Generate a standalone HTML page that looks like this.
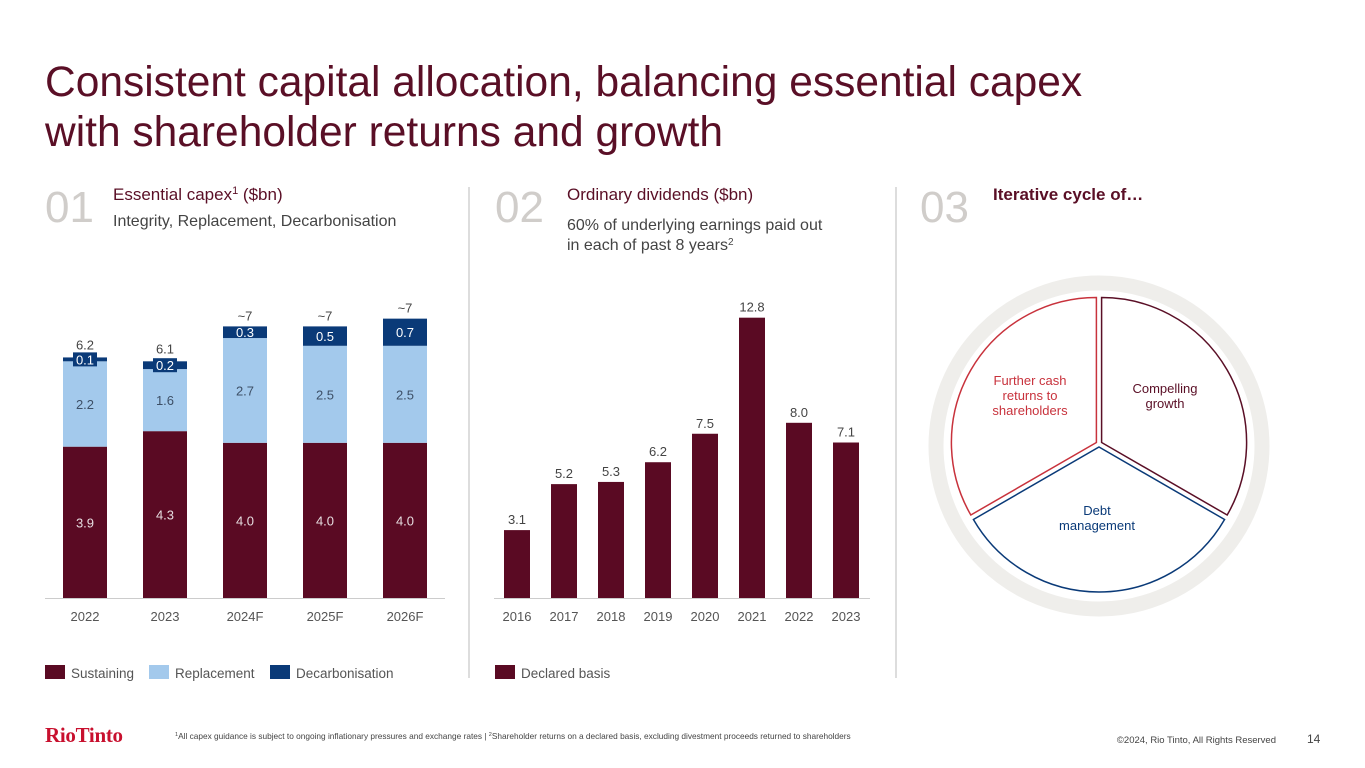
<!DOCTYPE html>
<html><head><meta charset="utf-8"><style>
html,body{margin:0;padding:0;background:#fff;}
body{width:1365px;height:768px;overflow:hidden;position:relative;font-family:"Liberation Sans",sans-serif;}
svg{position:absolute;left:0;top:0;}
</style></head><body>
<svg id="pg" width="1365" height="768" viewBox="0 0 1365 768">
  <text x="45" y="96" font-size="42.5" fill="#5a0f26" font-family="Liberation Sans">Consistent capital allocation, balancing essential capex</text>
  <text x="45" y="146" font-size="42.5" fill="#5a0f26" font-family="Liberation Sans">with shareholder returns and growth</text>

  <text x="45" y="222" font-size="44" fill="#d0cdca">01</text>
  <text x="113" y="200" font-size="17" fill="#5a0f26">Essential capex<tspan font-size="11" dy="-6">1</tspan><tspan dy="6"> ($bn)</tspan></text>
  <text x="113" y="226" font-size="16" fill="#444">Integrity, Replacement, Decarbonisation</text>

  <text x="495" y="222" font-size="44" fill="#d0cdca">02</text>
  <text x="567" y="200" font-size="17" fill="#5a0f26">Ordinary dividends ($bn)</text>
  <text x="567" y="230" font-size="16" fill="#444">60% of underlying earnings paid out</text>
  <text x="567" y="250" font-size="16" fill="#444">in each of past 8 years<tspan font-size="10" dy="-5">2</tspan></text>

  <text x="920" y="222" font-size="44" fill="#d0cdca">03</text>
  <text x="993" y="200" font-size="17" font-weight="bold" fill="#5a0f26">Iterative cycle of…</text>

  <line x1="469" y1="187" x2="469" y2="678" stroke="#bbb" stroke-width="1"/>
  <line x1="896" y1="187" x2="896" y2="678" stroke="#bbb" stroke-width="1"/>

  <g id="c1"></g>
  <g id="c2"></g>

  <rect x="45" y="665" width="20" height="14" fill="#5a0a23"/>
  <text x="71" y="678" font-size="13.5" fill="#555">Sustaining</text>
  <rect x="149" y="665" width="20" height="14" fill="#a3c9ec"/>
  <text x="175" y="678" font-size="13.5" fill="#555">Replacement</text>
  <rect x="270" y="665" width="20" height="14" fill="#0a3a78"/>
  <text x="296" y="678" font-size="13.5" fill="#555">Decarbonisation</text>
  <rect x="495" y="665" width="20" height="14" fill="#5a0a23"/>
  <text x="521" y="678" font-size="13.5" fill="#555">Declared basis</text>

  <g>
    <circle cx="1099" cy="446" r="163" fill="none" stroke="#efeeeb" stroke-width="15"/>
    <path id="segA" fill="#fff" stroke="#5a0f26" stroke-width="1.5"/>
    <path id="segB" fill="#fff" stroke="#0a3a78" stroke-width="1.5"/>
    <path id="segC" fill="#fff" stroke="#c8323c" stroke-width="1.5"/>
    <text x="1165" y="393" font-size="13" fill="#5a0f26" text-anchor="middle">Compelling</text>
    <text x="1165" y="408" font-size="13" fill="#5a0f26" text-anchor="middle">growth</text>
    <text x="1097" y="515" font-size="13" fill="#0a3a78" text-anchor="middle">Debt</text>
    <text x="1097" y="530" font-size="13" fill="#0a3a78" text-anchor="middle">management</text>
    <text x="1030" y="385" font-size="13" fill="#c8323c" text-anchor="middle">Further cash</text>
    <text x="1030" y="400" font-size="13" fill="#c8323c" text-anchor="middle">returns to</text>
    <text x="1030" y="415" font-size="13" fill="#c8323c" text-anchor="middle">shareholders</text>
  </g>

  <text x="45" y="742" font-size="21" font-weight="bold" font-family="Liberation Serif" fill="#c8102e" letter-spacing="-0.3">RioTinto</text>
  <text x="175" y="739" font-size="8.3" fill="#444"><tspan font-size="5.5" dy="-3">1</tspan><tspan dy="3">All capex guidance is subject to ongoing inflationary pressures and exchange rates | </tspan><tspan font-size="5.5" dy="-3">2</tspan><tspan dy="3">Shareholder returns on a declared basis, excluding divestment proceeds returned to shareholders</tspan></text>
  <text x="1276" y="743" font-size="9.5" fill="#444" text-anchor="end">©2024, Rio Tinto, All Rights Reserved</text>
  <text x="1307" y="743" font-size="12" fill="#444">14</text>
</svg>
<script>
const capexYears = ["2022","2023","2024F","2025F","2026F"];
const sustaining = [3.9,4.3,4.0,4.0,4.0];
const replacement = [2.2,1.6,2.7,2.5,2.5];
const decarb = [0.1,0.2,0.3,0.5,0.7];
const capexTotals = ["6.2","6.1","~7","~7","~7"];

const divYears = ["2016","2017","2018","2019","2020","2021","2022","2023"];
const dividends = [3.1,5.2,5.3,6.2,7.5,12.8,8.0,7.1];

const NS="http://www.w3.org/2000/svg";
function mk(tag,attrs,parent){const e=document.createElementNS(NS,tag);for(const k in attrs)e.setAttribute(k,attrs[k]);parent.appendChild(e);return e;}

const c1=document.getElementById('c1');
const base=598, k1=38.8;
const y1=v=>base-v*k1;
const x1=i=>85+i*80;
mk('line',{x1:45,y1:base+0.5,x2:445,y2:base+0.5,stroke:'#ccc','stroke-width':1},c1);
capexYears.forEach((yr,i)=>{
  const cx=x1(i), w=44;
  const s=sustaining[i], r=replacement[i], d=decarb[i];
  let e;
  e=mk('rect',{x:cx-w/2,y:y1(s),width:w,height:s*k1,fill:'#5a0a23'},c1);
  
  
  e=mk('rect',{x:cx-w/2,y:y1(s+r),width:w,height:r*k1,fill:'#a3c9ec'},c1);
  
  
  e=mk('rect',{x:cx-w/2,y:y1(s+r+d),width:w,height:d*k1,fill:'#0a3a78'},c1);
  
  
  e=mk('text',{x:cx,y:(y1(0)+y1(s))/2+5,'font-size':13,fill:'#e6dde0','text-anchor':'middle'},c1);e.textContent=s.toFixed(1);
  
  
  e=mk('text',{x:cx,y:(y1(s)+y1(s+r))/2+5,'font-size':13,fill:'#3d4f66','text-anchor':'middle'},c1);e.textContent=r.toFixed(1);
  
  
  const dyc=(y1(s+r)+y1(s+r+d))/2;
  if(d<0.25){mk('rect',{x:cx-12,y:dyc-7,width:24,height:14,fill:'#0a3a78'},c1);}
  e=mk('text',{x:cx,y:dyc+5,'font-size':13,fill:'#fff','text-anchor':'middle'},c1);e.textContent=d.toFixed(1);
  
  
  e=mk('text',{x:cx,y:y1(s+r+d)-(d<0.25?8:6),'font-size':13,fill:'#444','text-anchor':'middle'},c1);e.textContent=capexTotals[i];
  
  
  e=mk('text',{x:cx,y:621,'font-size':13,fill:'#555','text-anchor':'middle'},c1);e.textContent=yr;
  
  
});

const c2=document.getElementById('c2');
const k2=21.9;
const y2=v=>base-v*k2;
const x2=i=>517+i*47;
mk('line',{x1:494,y1:base+0.5,x2:870,y2:base+0.5,stroke:'#ccc','stroke-width':1},c2);
divYears.forEach((yr,i)=>{
  const cx=x2(i), w=26, v=dividends[i];
  let e=mk('rect',{x:cx-w/2,y:y2(v),width:w,height:v*k2,fill:'#5a0a23'},c2);
  
  
  e=mk('text',{x:cx,y:y2(v)-6,'font-size':13,fill:'#444','text-anchor':'middle'},c2);e.textContent=v.toFixed(1);
  
  
  e=mk('text',{x:cx,y:621,'font-size':13,fill:'#555','text-anchor':'middle'},c2);e.textContent=yr;
  
  
});

function seg(id,a0,a1){
  const cx=1099,cy=444,R=145,g=3;
  const mid=(a0+a1)/2*Math.PI/180;
  const ox=cx+g*Math.cos(mid), oy=cy+g*Math.sin(mid);
  const p=a=>[ox+R*Math.cos(a*Math.PI/180), oy+R*Math.sin(a*Math.PI/180)];
  const s=p(a0), e=p(a1);
  document.getElementById(id).setAttribute('d',`M${ox},${oy} L${s[0]},${s[1]} A${R},${R} 0 0 1 ${e[0]},${e[1]} Z`);
}
seg('segA',-90,30);
seg('segB',30,150);
seg('segC',150,270);
</script>
</body></html>
